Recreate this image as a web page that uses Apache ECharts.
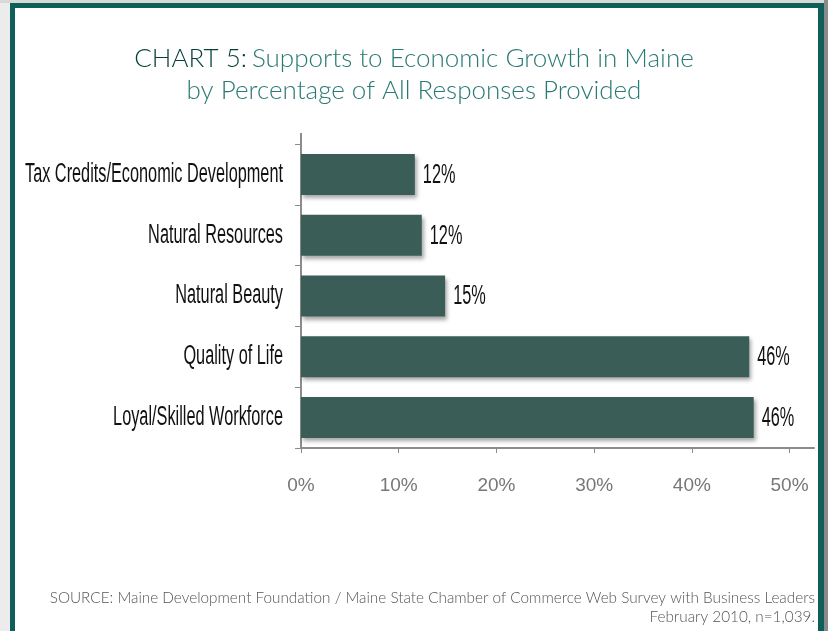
<!DOCTYPE html>
<html>
<head>
<meta charset="utf-8">
<script src="https://cdn.jsdelivr.net/npm/echarts@6/dist/echarts.min.js"></script>
<style>
  html, body { margin: 0; padding: 0; background: #fff; }
  #chart { width: 828px; height: 631px; }
</style>
</head>
<body>
<div id="chart"></div>
<script>
// data
const categories = [
  "Tax Credits/Economic Development",
  "Natural Resources",
  "Natural Beauty",
  "Quality of Life",
  "Loyal/Skilled Workforce"
];
const values = [11.65, 12.36, 14.75, 45.87, 46.33];
const valueLabels = ["12%", "12%", "15%", "46%", "46%"];
const xTicks = [0, 10, 20, 30, 40, 50];
const sourceLines = [
  "SOURCE: Maine Development Foundation / Maine State Chamber of Commerce Web Survey with Business Leaders",
  "February 2010, n=1,039."
];

const sans = "'Liberation Sans', Arial, sans-serif";
const light = "Lato, 'Open Sans', sans-serif";
const teal = "#0e5e59";
const axisGray = "#8c8c8c";
const labelSize = 27;

const chart = echarts.init(document.getElementById("chart"));

const option = {
  backgroundColor: "#fff",
  animation: false,
  title: {
    text: "{a|CHART 5:} {b|Supports to Economic Growth in Maine}\n{b|by Percentage of All Responses Provided}",
    left: "center",
    top: 38,
    textStyle: {
      rich: {
        a: { fontFamily: light, fontSize: 26, fontWeight: 300, color: "#073f3b", lineHeight: 32 },
        b: { fontFamily: light, fontSize: 26, fontWeight: 300, color: "#2a7a74", lineHeight: 32 }
      }
    }
  },
  grid: { left: 301, right: 14, top: 144, bottom: 183, outerBoundsMode: "none" },
  xAxis: {
    type: "value",
    min: 0,
    max: 52.5,
    splitLine: { show: false },
    axisLine: { show: true, lineStyle: { color: axisGray, width: 2 } },
    axisTick: { show: true, customValues: xTicks, length: 5, lineStyle: { color: axisGray } },
    axisLabel: {
      customValues: xTicks,
      formatter: v => v + "%",
      margin: 28,
      fontFamily: sans,
      fontSize: 19,
      color: "#777"
    }
  },
  yAxis: {
    type: "category",
    inverse: true,
    data: categories,
    axisLine: { show: true, lineStyle: { color: axisGray, width: 2 } },
    axisTick: { show: true, length: 6, lineStyle: { color: axisGray } },
    // drawn below as squeezed text, the picture uses a condensed face
    axisLabel: { show: false }
  },
  series: [
    {
      type: "bar",
      data: values,
      barWidth: 41,
      itemStyle: {
        color: "#3a5d58",
        shadowColor: "rgba(0,0,0,0.35)",
        shadowBlur: 4,
        shadowOffsetX: 2,
        shadowOffsetY: 3
      }
    }
  ],
  graphic: [
    // frame shadow and border
    { id: "shL", type: "rect", shape: { x: 0, y: 0, width: 10, height: 631 }, style: { fill: "#ececec" }, silent: true },
    { id: "shT", type: "rect", shape: { x: 0, y: 0, width: 828, height: 3 }, style: { fill: "#d8d8d8" }, silent: true },
    { id: "shR", type: "rect", shape: { x: 824, y: 0, width: 4, height: 631 }, style: { fill: "#8a8a8a" }, silent: true },
    { id: "bL", type: "rect", shape: { x: 10, y: 3, width: 5, height: 628 }, style: { fill: teal }, silent: true },
    { id: "bT", type: "rect", shape: { x: 10, y: 3, width: 814, height: 5 }, style: { fill: teal }, silent: true },
    { id: "bR", type: "rect", shape: { x: 818, y: 3, width: 6, height: 628 }, style: { fill: teal }, silent: true },
    // y axis runs a little above the first band
    { id: "yExt", type: "line", shape: { x1: 301, y1: 133, x2: 301, y2: 144 }, style: { stroke: axisGray, lineWidth: 2 }, silent: true },
    {
      id: "src0", type: "text", x: 815, y: 598,
      style: { text: sourceLines[0], align: "right", verticalAlign: "middle", fontFamily: light, fontWeight: 300, fontSize: 15.3, fill: "#555" }
    },
    {
      id: "src1", type: "text", x: 815, y: 617,
      style: { text: sourceLines[1], align: "right", verticalAlign: "middle", fontFamily: light, fontWeight: 300, fontSize: 15.3, fill: "#555" }
    }
  ]
};

chart.setOption(option);

// category and value labels, placed through the axes and squeezed sideways
const measureCtx = document.createElement("canvas").getContext("2d");
measureCtx.font = labelSize + "px " + sans;
const squeeze = 258 / measureCtx.measureText(categories[0]).width;
const axisX = chart.convertToPixel({ xAxisIndex: 0 }, 0);

const labels = [];
categories.forEach((cat, i) => {
  const y = chart.convertToPixel({ yAxisIndex: 0 }, cat);
  labels.push({
    id: "cat" + i, type: "text", x: axisX - 18, y: y, scaleX: squeeze, silent: true,
    style: { text: cat, align: "right", verticalAlign: "middle", fontFamily: sans, fontSize: labelSize, fill: "#111" }
  });
  labels.push({
    id: "val" + i, type: "text", x: chart.convertToPixel({ xAxisIndex: 0 }, values[i]) + 8, y: y + 1, scaleX: squeeze, silent: true,
    style: { text: valueLabels[i], align: "left", verticalAlign: "middle", fontFamily: sans, fontSize: labelSize, fill: "#111" }
  });
});
chart.setOption({ graphic: labels });
</script>
</body>
</html>
